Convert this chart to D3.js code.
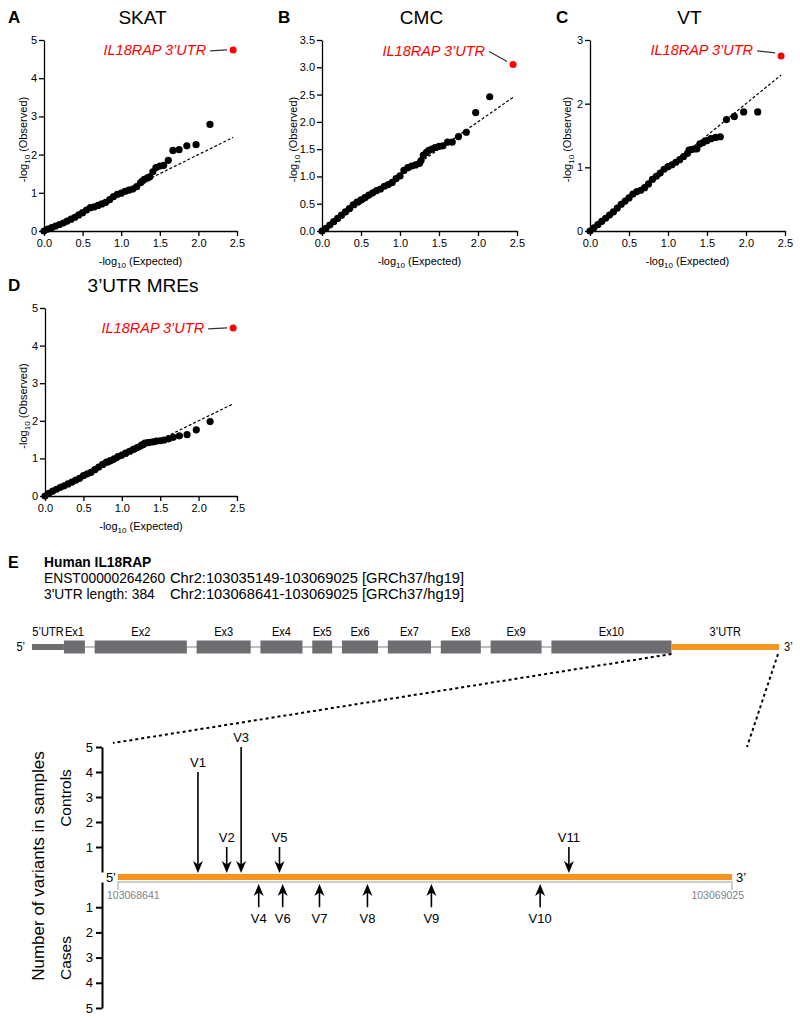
<!DOCTYPE html>
<html>
<head>
<meta charset="utf-8">
<script src="https://d3js.org/d3.v7.min.js"></script>
<style>
  body { margin: 0; background: #fff; }
  text { font-family: "Liberation Sans", Arial, sans-serif; }
</style>
</head>
<body>
<svg id="fig" width="800" height="1022"></svg>
<script>
// -log10 expected p values (shared by the four QQ panels); last one is IL18RAP 3'UTR
var expected = [0.00, 0.05, 0.10, 0.15, 0.20, 0.25, 0.30, 0.35, 0.40, 0.45, 0.50, 0.55,
  0.60, 0.65, 0.70, 0.75, 0.80, 0.85, 0.90, 0.95, 1.00, 1.05, 1.10, 1.15,
  1.20, 1.25, 1.27, 1.30, 1.34, 1.37, 1.41, 1.45, 1.50, 1.55, 1.61, 1.67,
  1.75, 1.85, 1.97, 2.15, 2.45];

var obsSKAT = [0.00, 0.05, 0.09, 0.13, 0.17, 0.21, 0.26, 0.31, 0.36, 0.42, 0.48, 0.55,
  0.61, 0.63, 0.67, 0.71, 0.75, 0.82, 0.90, 0.96, 0.99, 1.04, 1.07, 1.10,
  1.16, 1.26, 1.30, 1.35, 1.39, 1.42, 1.55, 1.66, 1.70, 1.72, 1.85, 2.11,
  2.13, 2.23, 2.26, 2.79, 4.74];

var obsCMC = [0.00, 0.05, 0.11, 0.17, 0.23, 0.29, 0.35, 0.41, 0.48, 0.53, 0.57, 0.61,
  0.66, 0.70, 0.74, 0.77, 0.82, 0.85, 0.89, 0.96, 1.01, 1.11, 1.16, 1.19,
  1.21, 1.24, 1.29, 1.39, 1.44, 1.48, 1.50, 1.53, 1.55, 1.56, 1.63, 1.63,
  1.73, 1.81, 2.17, 2.46, 3.05];

var obsVT = [0.00, 0.05, 0.10, 0.15, 0.20, 0.25, 0.30, 0.36, 0.42, 0.47, 0.52, 0.58,
  0.62, 0.64, 0.68, 0.74, 0.81, 0.86, 0.91, 0.97, 1.01, 1.04, 1.08, 1.12,
  1.17, 1.22, 1.27, 1.28, 1.29, 1.29, 1.37, 1.39, 1.42, 1.45, 1.47, 1.48,
  1.75, 1.80, 1.87, 1.87, 2.75];

var obsMRE = [0.00, 0.07, 0.13, 0.18, 0.23, 0.27, 0.32, 0.37, 0.42, 0.47, 0.54, 0.59,
  0.63, 0.70, 0.77, 0.84, 0.90, 0.94, 0.99, 1.05, 1.09, 1.14, 1.19, 1.24,
  1.29, 1.34, 1.37, 1.41, 1.42, 1.43, 1.44, 1.46, 1.47, 1.49, 1.52, 1.56,
  1.60, 1.63, 1.76, 1.98, 4.47];

var xTicks = [0, 0.5, 1.0, 1.5, 2.0, 2.5];
var yTicksSKAT = [0, 1, 2, 3, 4, 5];
var yTicksCMC = [0, 0.5, 1.0, 1.5, 2.0, 2.5, 3.0, 3.5];
var yTicksVT = [0, 1, 2, 3];
var yTicksMRE = [0, 1, 2, 3, 4, 5];

// gene model of IL18RAP (schematic part lengths)
var geneParts = ["5\u2019UTR", "Ex1", "Ex2", "Ex3", "Ex4", "Ex5", "Ex6", "Ex7", "Ex8", "Ex9", "Ex10", "3\u2019UTR"];
var partLen = [114, 75, 329, 193, 150, 71, 129, 154, 143, 182, 429, 384];

// 3'UTR variants
var utrStart = 103068641, utrEnd = 103069025;
var variantIds = ["V1", "V2", "V3", "V4", "V5", "V6", "V7", "V8", "V9", "V10", "V11"];
var variantPos = [103068691, 103068709, 103068718, 103068729, 103068742, 103068744,
  103068767, 103068797, 103068837, 103068905, 103068923];
var controlCounts = [4, 1, 5, 0, 1, 0, 0, 0, 0, 0, 1];
var caseCounts = [0, 0, 0, 1, 0, 1, 1, 1, 1, 1, 0];
var countTicks = [1, 2, 3, 4, 5];

var svg = d3.select("#fig");
var RED = "#ff0000";
var NARROW = 0.85;   // condensed look of the gene-model captions

function styleAxis(g, fs) {
  g.attr("font-family", "Liberation Sans, Arial, sans-serif").attr("font-size", fs);
  g.select(".domain").attr("stroke", "#000").attr("stroke-width", 1.3);
  g.selectAll(".tick line").attr("stroke", "#000").attr("stroke-width", 1.3);
  g.selectAll(".tick text").attr("fill", "#000");
}

function logLabel(sel, word) {
  sel.append("tspan").text("-log");
  sel.append("tspan").attr("font-size", 8).attr("dy", 3).text("10");
  sel.append("tspan").attr("dy", -3).text(" (" + word + ")");
}

function ntext(sel, x, y, str, fs, anchor, squeeze) {
  return sel.append("text")
    .attr("transform", "translate(" + x + "," + y + ") scale(" + (squeeze || NARROW) + ",1)")
    .attr("font-size", fs).attr("text-anchor", anchor || "start").text(str);
}

var panels = [
  { letter: "A", title: "SKAT", obs: obsSKAT, yt: yTicksSKAT, fmt: "d",
    x0: 44, x1: 237, y0: 231, y1: 40, lx: 8, ylx: 27, lab: [-27, 0] },
  { letter: "B", title: "CMC", obs: obsCMC, yt: yTicksCMC, fmt: ".1f",
    x0: 322, x1: 517, y0: 231, y1: 40, lx: 278, ylx: 297, lab: [-28, -14] },
  { letter: "C", title: "VT", obs: obsVT, yt: yTicksVT, fmt: "d",
    x0: 590, x1: 785, y0: 231, y1: 40, lx: 556, ylx: 571, lab: [-28, -6] },
  { letter: "D", title: "3\u2019UTR MREs", obs: obsMRE, yt: yTicksMRE, fmt: "d",
    x0: 45, x1: 237, y0: 496, y1: 308, lx: 8, ylx: 27, lab: [-29, 0] }
];

panels.forEach(function(p) {
  var x = d3.scaleLinear().domain([0, 2.5]).range([p.x0, p.x1]);
  var y = d3.scaleLinear().domain([0, p.yt[p.yt.length - 1]]).range([p.y0, p.y1]);
  var g = svg.append("g");

  g.append("text").attr("x", p.lx).attr("y", p.y1 - 17)
    .attr("font-size", 17).attr("font-weight", "bold").text(p.letter);
  g.append("text").attr("x", (p.x0 + p.x1) / 2 + 2).attr("y", p.y1 - 16)
    .attr("text-anchor", "middle").attr("font-size", 19).text(p.title);

  g.append("g").attr("transform", "translate(0," + p.y0 + ")")
    .call(d3.axisBottom(x).tickValues(xTicks).tickFormat(d3.format(".1f")).tickSize(5).tickPadding(3).tickSizeOuter(0))
    .call(styleAxis, 11);
  g.append("g").attr("transform", "translate(" + p.x0 + ",0)")
    .call(d3.axisLeft(y).tickValues(p.yt).tickFormat(d3.format(p.fmt)).tickSize(5).tickPadding(2).tickSizeOuter(0))
    .call(styleAxis, 11);

  g.append("text").attr("x", (p.x0 + p.x1) / 2).attr("y", p.y0 + 34)
    .attr("text-anchor", "middle").attr("font-size", 11).call(logLabel, "Expected");
  g.append("text").attr("transform", "translate(" + p.ylx + "," + ((p.y0 + p.y1) / 2 + 4) + ") rotate(-90)")
    .attr("text-anchor", "middle").attr("font-size", 11).call(logLabel, "Observed");

  // identity line
  g.append("line").attr("x1", x(0)).attr("y1", y(0)).attr("x2", x(2.45)).attr("y2", y(2.45))
    .attr("stroke", "#000").attr("stroke-width", 1.2).attr("stroke-dasharray", "3,2");

  var n = expected.length;
  var pts = expected.map(function(e, i) { return [e, p.obs[i]]; });
  g.selectAll("circle.pt").data(pts.slice(0, n - 1)).join("circle")
    .attr("cx", function(d) { return x(d[0]); })
    .attr("cy", function(d) { return y(d[1]); })
    .attr("r", 3.6).attr("fill", "#000");

  var top = pts[n - 1];
  var cx = x(top[0]), cy = y(top[1]);
  g.append("circle").attr("cx", cx).attr("cy", cy).attr("r", 3.5).attr("fill", RED);
  var tx = cx + p.lab[0], ty = cy + p.lab[1];
  g.append("text").attr("x", tx).attr("y", ty + 5).attr("text-anchor", "end")
    .attr("font-size", 14.5).attr("font-style", "italic").attr("fill", RED).text("IL18RAP 3\u2019UTR");
  g.append("line").attr("x1", tx + 4).attr("y1", ty + 1)
    .attr("x2", cx - 6).attr("y2", cy - (p.lab[1] ? 3 : 0))
    .attr("stroke", "#333").attr("stroke-width", 1.2);
});

// ---------- panel E ----------
var E = svg.append("g");
E.append("text").attr("x", 8).attr("y", 568).attr("font-size", 16).attr("font-weight", "bold").text("E");
ntext(E, 44, 567, "Human IL18RAP", 15, "start", 0.92).attr("font-weight", "bold");
ntext(E, 44, 583, "ENST00000264260", 15, "start", 0.92);
ntext(E, 170, 583, "Chr2:103035149-103069025 [GRCh37/hg19]", 15, "start", 0.98);
ntext(E, 44, 599, "3'UTR length: 384", 15, "start", 0.92);
ntext(E, 170, 599, "Chr2:" + utrStart + "-" + utrEnd + " [GRCh37/hg19]", 15, "start", 0.98);

// gene structure
var geneY = 647, gap = 9.8, gx0 = 32, gx1 = 779;
var totalLen = d3.sum(partLen);
var nGaps = partLen.length - 3;
var gscale = d3.scaleLinear().domain([0, totalLen]).range([0, gx1 - gx0 - gap * nGaps]);
var segs = [], acc = 0;
partLen.forEach(function(len, i) {
  var g = (i <= 1) ? 0 : (i >= partLen.length - 1 ? nGaps : i - 1);
  segs.push({ name: geneParts[i], x: gx0 + gscale(acc) + g * gap, w: gscale(len), i: i });
  acc += len;
});
E.append("rect").attr("x", segs[1].x).attr("y", geneY - 1).attr("width", segs[10].x - segs[1].x)
  .attr("height", 2).attr("fill", "#bcbec0");
E.selectAll("rect.part").data(segs).join("rect")
  .attr("x", function(d) { return d.x; })
  .attr("width", function(d) { return d.w; })
  .attr("y", function(d) { return (d.i === 0 || d.i === 11) ? geneY - 3 : geneY - 6.5; })
  .attr("height", function(d) { return (d.i === 0 || d.i === 11) ? 6 : 13; })
  .attr("fill", function(d) { return d.i === 11 ? "#f7941d" : "#6d6e71"; });
E.selectAll("text.part").data(segs).join("text")
  .attr("transform", function(d) {
    return "translate(" + (d.x + d.w / 2) + "," + (geneY - 11) + ") scale(" + NARROW + ",1)";
  })
  .attr("text-anchor", "middle").attr("font-size", 13)
  .text(function(d) { return d.name; });
ntext(E, 25, geneY + 4, "5\u2019", 13, "end");
ntext(E, gx1 + 5, geneY + 4, "3\u2019", 13);

// zoom guides
var utrSeg = segs[11];
E.append("line").attr("x1", utrSeg.x).attr("y1", geneY + 7).attr("x2", 113).attr("y2", 743)
  .attr("stroke", "#000").attr("stroke-width", 2).attr("stroke-dasharray", "3,3");
E.append("line").attr("x1", utrSeg.x + utrSeg.w - 1).attr("y1", geneY + 7).attr("x2", 747).attr("y2", 747)
  .attr("stroke", "#000").attr("stroke-width", 2).attr("stroke-dasharray", "3,3");

// zoomed 3'UTR with variants
var xg = d3.scaleLinear().domain([utrStart, utrEnd]).range([118, 732]);
var yCtrl = d3.scaleLinear().domain([0, 5]).range([872, 747]);
var yCase = d3.scaleLinear().domain([0, 5]).range([882, 1008]);

E.append("g").attr("transform", "translate(102,0)")
  .call(d3.axisLeft(yCtrl).tickValues(countTicks).tickFormat(d3.format("d")).tickSize(6).tickSizeOuter(0))
  .call(styleAxis, 13).call(function(g) { g.selectAll("path, line").attr("stroke-width", 2); });
E.append("g").attr("transform", "translate(102,0)")
  .call(d3.axisLeft(yCase).tickValues(countTicks).tickFormat(d3.format("d")).tickSize(6).tickSizeOuter(0))
  .call(styleAxis, 13).call(function(g) { g.selectAll("path, line").attr("stroke-width", 2); });

E.append("text").attr("transform", "translate(44,866) rotate(-90)").attr("text-anchor", "middle")
  .attr("font-size", 17).text("Number of variants in samples");
E.append("text").attr("transform", "translate(71,798) rotate(-90)").attr("text-anchor", "middle")
  .attr("font-size", 15.5).text("Controls");
E.append("text").attr("transform", "translate(71,958) rotate(-90)").attr("text-anchor", "middle")
  .attr("font-size", 15.5).text("Cases");

// baseline under the 3'UTR
E.append("path")
  .attr("d", "M" + xg(utrStart) + "," + 890 + "V882H" + xg(utrEnd) + "V890")
  .attr("fill", "none").attr("stroke", "#bcbec0").attr("stroke-width", 1.5);
E.append("rect").attr("x", xg(utrStart)).attr("y", 874).attr("width", xg(utrEnd) - xg(utrStart))
  .attr("height", 6).attr("fill", "#f7941d");
E.append("text").attr("x", 116).attr("y", 882).attr("text-anchor", "end").attr("font-size", 13).text("5\u2019");
E.append("text").attr("x", 736).attr("y", 882).attr("font-size", 13).text("3\u2019");
E.append("text").attr("x", 107).attr("y", 899).attr("font-size", 10.5).attr("fill", "#808285").text(utrStart);
E.append("text").attr("x", 744).attr("y", 899).attr("text-anchor", "end").attr("font-size", 10.5).attr("fill", "#808285").text(utrEnd);

var variants = variantIds.map(function(id, i) {
  return { id: id, x: xg(variantPos[i]), ctrl: controlCounts[i], cas: caseCounts[i] };
});

function arrow(g, x, from, tip) {
  var dir = tip > from ? 1 : -1;
  g.append("line").attr("x1", x).attr("y1", from).attr("x2", x).attr("y2", tip - dir * 8)
    .attr("stroke", "#000").attr("stroke-width", 1.6);
  g.append("path")
    .attr("d", "M" + x + "," + tip + "L" + (x - 5) + "," + (tip - dir * 12) + "L" + x + "," + (tip - dir * 8.5) +
      "L" + (x + 5) + "," + (tip - dir * 12) + "Z")
    .attr("fill", "#000");
}

variants.filter(function(v) { return v.ctrl > 0; }).forEach(function(v) {
  arrow(E, v.x, yCtrl(v.ctrl), yCtrl(0) + 1);
  E.append("text").attr("x", v.x).attr("y", yCtrl(v.ctrl) - 5).attr("text-anchor", "middle")
    .attr("font-size", 13).text(v.id);
});
variants.filter(function(v) { return v.cas > 0; }).forEach(function(v) {
  arrow(E, v.x, yCase(v.cas), yCase(0) + 2);
  E.append("text").attr("x", v.x).attr("y", yCase(v.cas) + 16).attr("text-anchor", "middle")
    .attr("font-size", 13).text(v.id);
});
</script>
</body>
</html>
